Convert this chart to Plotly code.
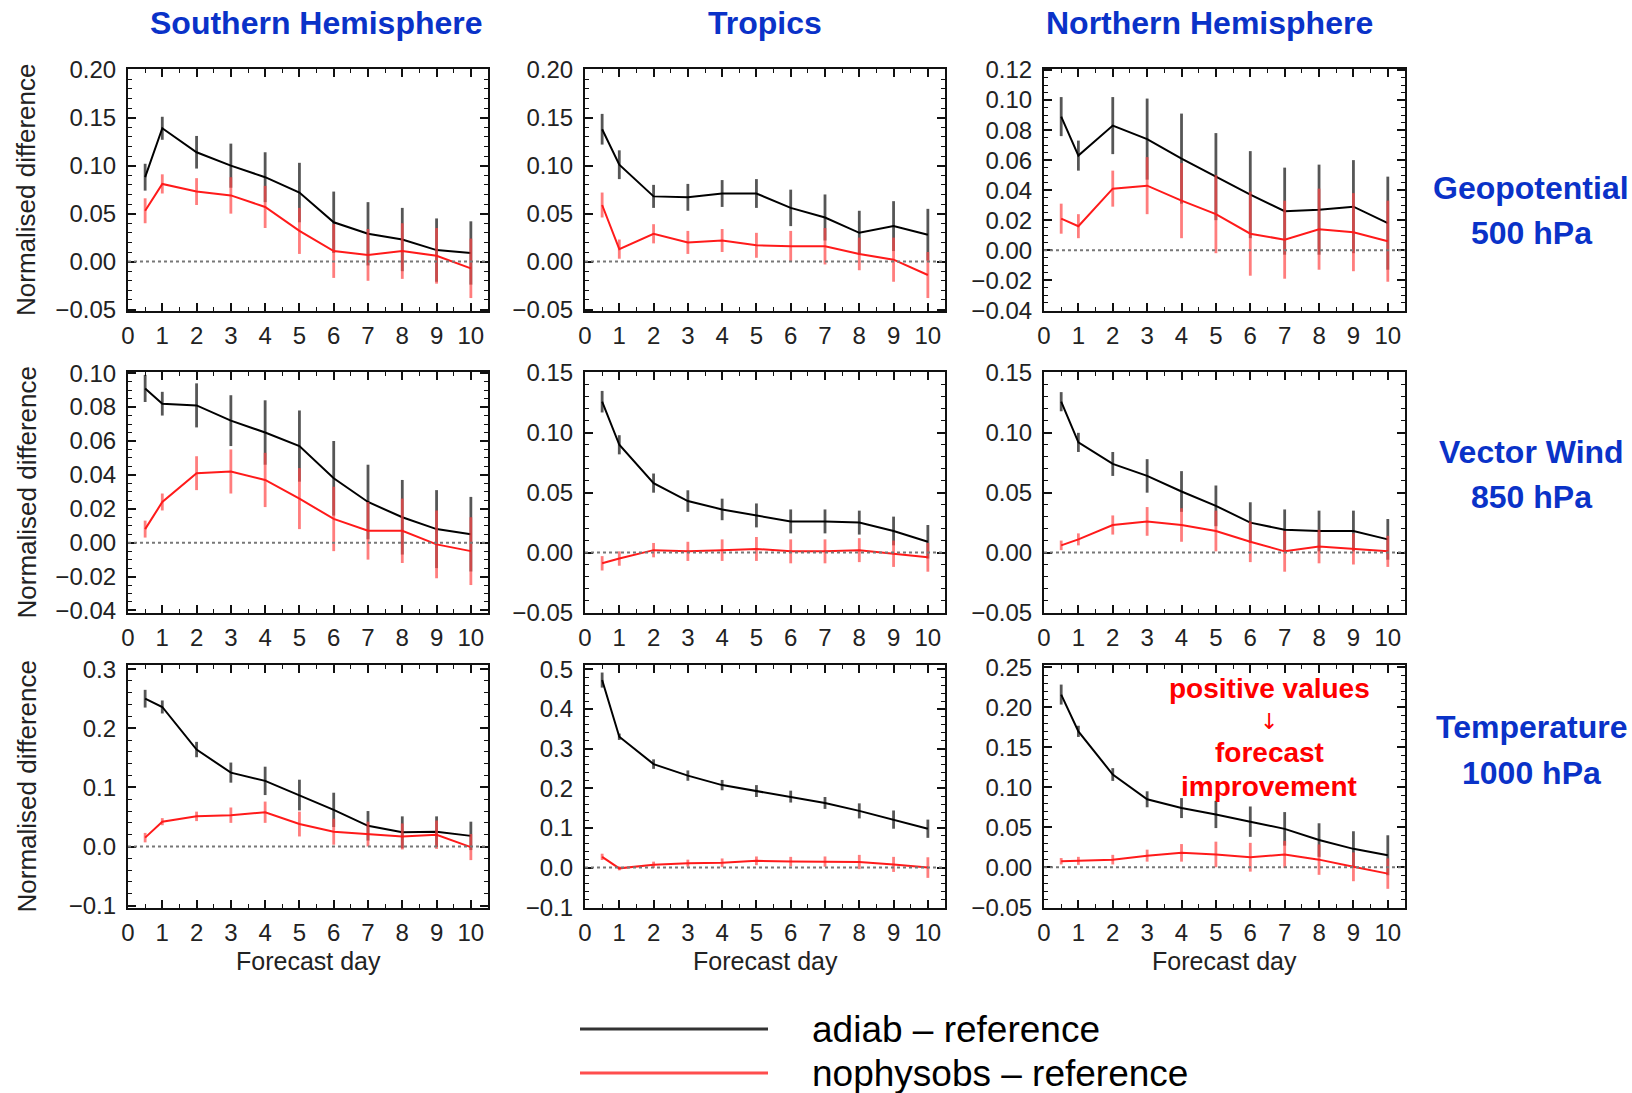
import plotly.graph_objects as go

W, H = 1632, 1093

# ---------------- data ----------------
days = [0.5, 1, 2, 3, 4, 5, 6, 7, 8, 9, 10]

# Geopotential 500 hPa
sh_z_adiab = [0.088, 0.139, 0.114, 0.100, 0.088, 0.072, 0.041, 0.029, 0.023, 0.012, 0.009]
sh_z_adiab_err = [0.014, 0.012, 0.017, 0.023, 0.026, 0.031, 0.032, 0.033, 0.033, 0.033, 0.033]
sh_z_noph = [0.053, 0.081, 0.073, 0.069, 0.057, 0.032, 0.011, 0.007, 0.011, 0.006, -0.007]
sh_z_noph_err = [0.013, 0.010, 0.014, 0.019, 0.022, 0.024, 0.028, 0.027, 0.029, 0.029, 0.031]

tr_z_adiab = [0.138, 0.101, 0.068, 0.067, 0.071, 0.071, 0.056, 0.046, 0.030, 0.037, 0.028]
tr_z_adiab_err = [0.016, 0.015, 0.012, 0.014, 0.014, 0.015, 0.019, 0.024, 0.023, 0.026, 0.027]
tr_z_noph = [0.059, 0.013, 0.029, 0.020, 0.022, 0.017, 0.016, 0.016, 0.008, 0.002, -0.014]
tr_z_noph_err = [0.013, 0.010, 0.010, 0.012, 0.012, 0.013, 0.016, 0.019, 0.017, 0.023, 0.024]

nh_z_adiab = [0.089, 0.063, 0.083, 0.074, 0.061, 0.049, 0.037, 0.026, 0.027, 0.029, 0.018]
nh_z_adiab_err = [0.013, 0.010, 0.019, 0.027, 0.030, 0.029, 0.029, 0.029, 0.030, 0.031, 0.031]
nh_z_noph = [0.021, 0.016, 0.041, 0.043, 0.033, 0.024, 0.011, 0.007, 0.014, 0.012, 0.006]
nh_z_noph_err = [0.010, 0.008, 0.012, 0.019, 0.025, 0.026, 0.028, 0.026, 0.027, 0.026, 0.027]

# Vector wind 850 hPa
sh_v_adiab = [0.091, 0.082, 0.081, 0.072, 0.065, 0.057, 0.038, 0.024, 0.015, 0.008, 0.005]
sh_v_adiab_err = [0.008, 0.007, 0.013, 0.015, 0.019, 0.021, 0.022, 0.022, 0.022, 0.023, 0.022]
sh_v_noph = [0.008, 0.024, 0.041, 0.042, 0.037, 0.026, 0.014, 0.007, 0.007, -0.001, -0.005]
sh_v_noph_err = [0.005, 0.005, 0.010, 0.013, 0.016, 0.018, 0.019, 0.017, 0.019, 0.020, 0.020]

tr_v_adiab = [0.126, 0.090, 0.058, 0.043, 0.036, 0.031, 0.026, 0.026, 0.025, 0.018, 0.009]
tr_v_adiab_err = [0.009, 0.008, 0.008, 0.009, 0.009, 0.010, 0.010, 0.010, 0.010, 0.012, 0.014]
tr_v_noph = [-0.009, -0.005, 0.002, 0.001, 0.002, 0.003, 0.001, 0.001, 0.002, -0.001, -0.004]
tr_v_noph_err = [0.006, 0.006, 0.006, 0.008, 0.009, 0.010, 0.010, 0.010, 0.010, 0.011, 0.012]

nh_v_adiab = [0.126, 0.092, 0.074, 0.064, 0.051, 0.039, 0.025, 0.019, 0.018, 0.018, 0.011]
nh_v_adiab_err = [0.008, 0.008, 0.010, 0.014, 0.017, 0.017, 0.017, 0.017, 0.017, 0.017, 0.017]
nh_v_noph = [0.006, 0.011, 0.023, 0.026, 0.023, 0.018, 0.009, 0.001, 0.005, 0.003, 0.001]
nh_v_noph_err = [0.004, 0.005, 0.008, 0.012, 0.014, 0.017, 0.017, 0.017, 0.014, 0.013, 0.013]

# Temperature 1000 hPa
sh_t_adiab = [0.250, 0.236, 0.164, 0.125, 0.111, 0.087, 0.062, 0.035, 0.024, 0.025, 0.018]
sh_t_adiab_err = [0.015, 0.011, 0.013, 0.017, 0.024, 0.026, 0.029, 0.025, 0.027, 0.026, 0.024]
sh_t_noph = [0.015, 0.042, 0.051, 0.053, 0.058, 0.038, 0.025, 0.021, 0.017, 0.020, -0.001]
sh_t_noph_err = [0.008, 0.006, 0.008, 0.013, 0.018, 0.021, 0.022, 0.021, 0.022, 0.024, 0.022]

tr_t_adiab = [0.473, 0.330, 0.261, 0.232, 0.208, 0.193, 0.179, 0.163, 0.143, 0.121, 0.098]
tr_t_adiab_err = [0.019, 0.008, 0.012, 0.013, 0.013, 0.015, 0.015, 0.015, 0.019, 0.023, 0.023]
tr_t_noph = [0.027, -0.002, 0.007, 0.011, 0.012, 0.017, 0.015, 0.015, 0.014, 0.008, 0.000]
tr_t_noph_err = [0.008, 0.005, 0.008, 0.009, 0.011, 0.011, 0.012, 0.013, 0.018, 0.019, 0.026]

nh_t_adiab = [0.216, 0.170, 0.116, 0.085, 0.074, 0.066, 0.057, 0.048, 0.034, 0.023, 0.015]
nh_t_adiab_err = [0.0125, 0.007, 0.008, 0.010, 0.0125, 0.017, 0.019, 0.021, 0.021, 0.022, 0.025]
nh_t_noph = [0.0075, 0.008, 0.0095, 0.0145, 0.018, 0.016, 0.0125, 0.016, 0.0095, 0.0005, -0.008]
nh_t_noph_err = [0.004, 0.005, 0.006, 0.0075, 0.011, 0.016, 0.018, 0.017, 0.019, 0.018, 0.019]

column_titles = ["Southern Hemisphere", "Tropics", "Northern Hemisphere"]
row_titles = [("Geopotential", "500 hPa"), ("Vector Wind", "850 hPa"), ("Temperature", "1000 hPa")]
series_names = ["adiab \u2013 reference", "nophysobs \u2013 reference"]
y_title = "Normalised difference"
x_title = "Forecast day"
note_lines = ["positive values", "\u2193", "forecast", "improvement"]

panels = [
    # (adiab, adiab_err, noph, noph_err, yrange, dtick, fmt, minor)
    (sh_z_adiab, sh_z_adiab_err, sh_z_noph, sh_z_noph_err, [-0.0515, 0.2008], 0.05, ".2f", 0.01),
    (tr_z_adiab, tr_z_adiab_err, tr_z_noph, tr_z_noph_err, [-0.0515, 0.2008], 0.05, ".2f", 0.01),
    (nh_z_adiab, nh_z_adiab_err, nh_z_noph, nh_z_noph_err, [-0.0405, 0.1207], 0.02, ".2f", 0.005),
    (sh_v_adiab, sh_v_adiab_err, sh_v_noph, sh_v_noph_err, [-0.0415, 0.1007], 0.02, ".2f", 0.005),
    (tr_v_adiab, tr_v_adiab_err, tr_v_noph, tr_v_noph_err, [-0.0505, 0.1508], 0.05, ".2f", 0.01),
    (nh_v_adiab, nh_v_adiab_err, nh_v_noph, nh_v_noph_err, [-0.0505, 0.1508], 0.05, ".2f", 0.01),
    (sh_t_adiab, sh_t_adiab_err, sh_t_noph, sh_t_noph_err, [-0.104, 0.307], 0.1, ".1f", 0.02),
    (tr_t_adiab, tr_t_adiab_err, tr_t_noph, tr_t_noph_err, [-0.102, 0.511], 0.1, ".1f", 0.02),
    (nh_t_adiab, nh_t_adiab_err, nh_t_noph, nh_t_noph_err, [-0.051, 0.253], 0.05, ".2f", 0.01),
]

# ---------------- layout geometry (pixels) ----------------
col_px = [(128, 488), (585, 945), (1044, 1405)]
row_px = [(69, 311), (372, 613), (665, 908)]
col_title_x = [316, 765, 1209]

def fx(x):
    return x / W

def fy(y):
    return 1 - y / H

FONT = "Liberation Sans, Arial, Helvetica, sans-serif"
BLUE = "#0a32c8"
RED_LINE = "#ff1a1a"
RED_ERR = "rgba(255,70,70,0.7)"
BLACK_ERR = "rgba(30,30,30,0.75)"

fig = go.Figure()
layout = dict(
    width=W, height=H,
    margin=dict(l=0, r=0, t=0, b=0, pad=0, autoexpand=False),
    paper_bgcolor="white", plot_bgcolor="white",
    showlegend=False,
    font=dict(family=FONT, color="#222"),
)

shapes = []
annotations = []

for i, (ad, ade, no, noe, yr, dt, fmt, mn) in enumerate(panels):
    r, c = divmod(i, 3)
    k = i + 1
    xa = "x" if k == 1 else f"x{k}"
    ya = "y" if k == 1 else f"y{k}"
    xname = "xaxis" if k == 1 else f"xaxis{k}"
    yname = "yaxis" if k == 1 else f"yaxis{k}"
    x0, x1 = col_px[c]
    y0, y1 = row_px[r]

    fig.add_trace(go.Scatter(
        x=days, y=ad, mode="lines", xaxis=xa, yaxis=ya,
        line=dict(color="black", width=2),
        error_y=dict(type="data", array=ade, visible=True, width=0,
                     thickness=2.8, color=BLACK_ERR),
        name=series_names[0]))
    fig.add_trace(go.Scatter(
        x=days, y=no, mode="lines", xaxis=xa, yaxis=ya,
        line=dict(color=RED_LINE, width=2),
        error_y=dict(type="data", array=noe, visible=True, width=0,
                     thickness=2.8, color=RED_ERR),
        name=series_names[1]))

    common = dict(
        showgrid=False, zeroline=False, automargin=False,
        showline=True, linecolor="#111", linewidth=2.2, mirror="allticks",
        ticks="inside", ticklen=8, tickwidth=1.5, tickcolor="#111",
        tickfont=dict(family=FONT, size=24, color="#222"),
    )
    layout[xname] = dict(
        common, domain=[fx(x0), fx(x1)], anchor=ya,
        range=[0, 10.5], tick0=0, dtick=1, ticklabelstandoff=2,
        minor=dict(ticks="inside", ticklen=4, dtick=0.5, tickcolor="#111", tickwidth=1.2),
    )
    layout[yname] = dict(
        common, domain=[fy(y1), fy(y0)], anchor=xa,
        range=yr, tick0=0, dtick=dt, tickformat=fmt, ticklabelstandoff=5,
        minor=dict(ticks="inside", ticklen=4, dtick=mn, tickcolor="#111", tickwidth=1.2),
    )
    # dotted zero line
    shapes.append(dict(type="line", xref=f"{xa} domain", yref=ya,
                       x0=0, x1=1, y0=0, y1=0,
                       line=dict(color="#777", width=2, dash="dot")))

# column titles
for t, cx in zip(column_titles, col_title_x):
    annotations.append(dict(text=f"<b>{t}</b>", x=fx(cx), y=fy(23), xref="paper", yref="paper",
                            showarrow=False, xanchor="center", yanchor="middle",
                            font=dict(family=FONT, size=32, color=BLUE)))

# row titles
row_text_y = [(188, 233), (452, 497), (727, 773)]
for r, (a, b) in enumerate(row_titles):
    for txt, yy in zip((a, b), row_text_y[r]):
        annotations.append(dict(text=f"<b>{txt}</b>", x=fx(1531), y=fy(yy), xref="paper", yref="paper",
                                showarrow=False, xanchor="center", yanchor="middle",
                                font=dict(family=FONT, size=32, color=BLUE)))

# y-axis titles (left column)
for r in range(3):
    cy = (row_px[r][0] + row_px[r][1]) / 2
    annotations.append(dict(text=y_title, x=fx(26), y=fy(cy), xref="paper", yref="paper",
                            showarrow=False, textangle=-90, xanchor="center", yanchor="middle",
                            font=dict(family=FONT, size=26, color="#222")))

# x-axis titles (bottom row)
for c in range(3):
    cx = (col_px[c][0] + col_px[c][1]) / 2
    annotations.append(dict(text=x_title, x=fx(cx), y=fy(961), xref="paper", yref="paper",
                            showarrow=False, xanchor="center", yanchor="middle",
                            font=dict(family=FONT, size=25, color="#222")))

# note in NH temperature panel
note_y = [688, 721, 752, 786]
for txt, yy in zip(note_lines, note_y):
    if txt == "\u2193":
        fnt = dict(family="DejaVu Sans", size=22, color="#ff0000")
        text = txt
    else:
        fnt = dict(family=FONT, size=28, color="#ff0000")
        text = f"<b>{txt}</b>"
    annotations.append(dict(text=text, x=fx(1269), y=fy(yy),
                            xref="paper", yref="paper", showarrow=False,
                            xanchor="center", yanchor="middle", font=fnt))

# legend
leg_colors = ["#333333", "#ff4d4d"]
leg_y = [1029, 1073]
for name, col, yy in zip(series_names, leg_colors, leg_y):
    shapes.append(dict(type="line", xref="paper", yref="paper",
                       x0=fx(580), x1=fx(768), y0=fy(yy), y1=fy(yy),
                       line=dict(color=col, width=3)))
    annotations.append(dict(text=name, x=fx(810), y=fy(yy), xref="paper", yref="paper",
                            showarrow=False, xanchor="left", yanchor="middle",
                            font=dict(family=FONT, size=37, color="black")))

layout["shapes"] = shapes
layout["annotations"] = annotations
fig.update_layout(**layout)

fig.write_html("out.html")
